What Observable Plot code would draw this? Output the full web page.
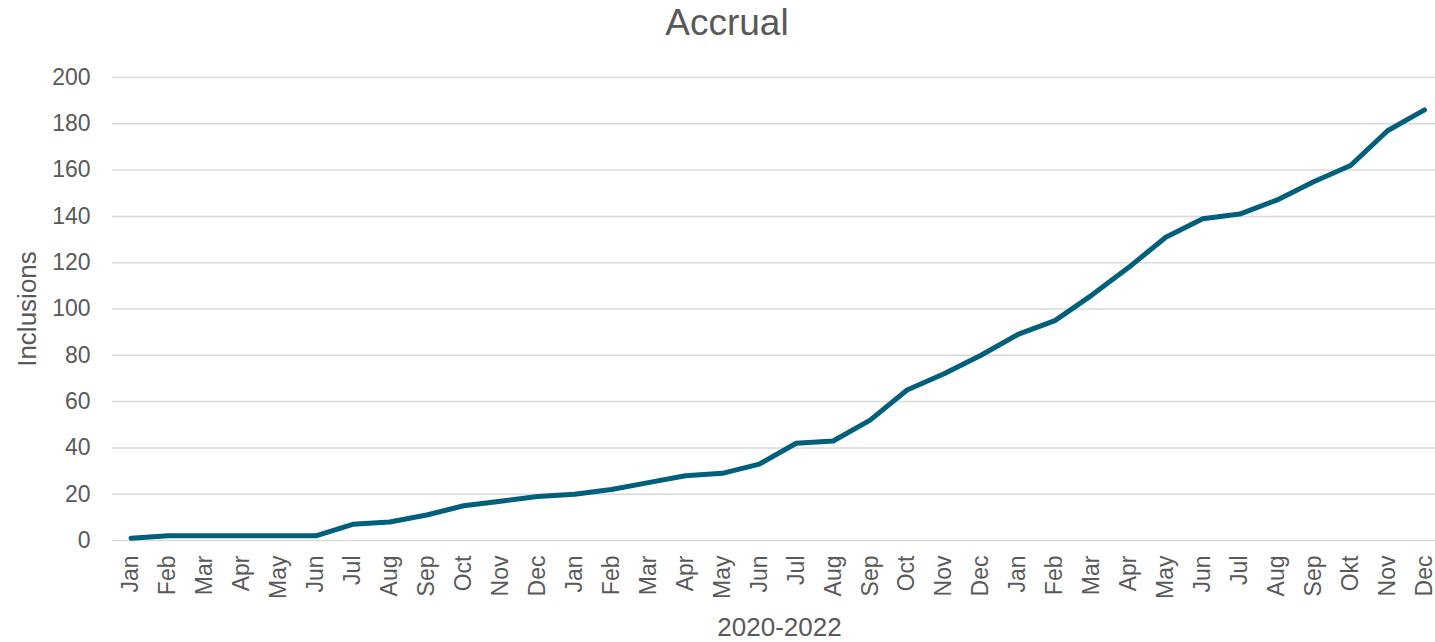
<!DOCTYPE html>
<html>
<head>
<meta charset="utf-8">
<script src="https://cdn.jsdelivr.net/npm/d3@7"></script>
<script src="https://cdn.jsdelivr.net/npm/@observablehq/plot@0.6"></script>
<style>
  html, body { margin: 0; padding: 0; background: #fff; overflow: hidden; }
  #chart { width: 1435px; }
  .title {
    height: 50px;
    line-height: 46px;
    font-family: "Liberation Sans", Arial, sans-serif;
    font-size: 37px;
    color: #595959;
    text-align: center;
    padding-left: 19px;
    width: 1416px;
  }
  svg { display: block; }
</style>
</head>
<body>
<div id="chart">
  <div class="title">Accrual</div>
</div>
<script>
// Monthly labels, January 2020 through December 2022
const months = [
  "Jan","Feb","Mar","Apr","May","Jun","Jul","Aug","Sep","Oct","Nov","Dec",
  "Jan","Feb","Mar","Apr","May","Jun","Jul","Aug","Sep","Oct","Nov","Dec",
  "Jan","Feb","Mar","Apr","May","Jun","Jul","Aug","Sep","Okt","Nov","Dec"
];

// Cumulative number of inclusions at each month
const inclusions = [
  1, 2, 2, 2, 2, 2, 7, 8, 11, 15, 17, 19,
  20, 22, 25, 28, 29, 33, 42, 43, 52, 65, 72, 80,
  89, 95, 106, 118, 131, 139, 141, 147, 155, 162, 177, 186
];

const yTicks = [0, 20, 40, 60, 80, 100, 120, 140, 160, 180, 200];

const yLabel = "Inclusions";
const xLabel = "2020-2022";

const data = months.map((m, i) => ({i, month: m, value: inclusions[i]}));

const font = "'Liberation Sans', Arial, sans-serif";
const textColor = "#595959";

const plot = Plot.plot({
  width: 1435,
  height: 592,
  marginTop: 27,
  marginBottom: 102,
  marginLeft: 112,
  marginRight: 0,
  style: {fontFamily: font, background: "#fff", overflow: "hidden"},
  x: {type: "point", domain: d3.range(months.length), range: [130.5, 1424], padding: 0},
  y: {domain: [0, 200]},
  marks: [
    Plot.gridY(yTicks, {stroke: "#d9d9d9", strokeOpacity: 1, strokeWidth: 1.5}),
    Plot.axisY(yTicks, {
      tickSize: 0, tickPadding: 22, fontSize: 23, fill: textColor, label: null
    }),
    Plot.axisX({
      tickSize: 0, tickPadding: 15, tickRotate: -90, fontSize: 23, fill: textColor,
      textAnchor: "end", lineAnchor: "middle",
      tickFormat: i => months[i], label: null
    }),
    Plot.text([yLabel], {
      frameAnchor: "left", text: d => d, rotate: -90, dx: -85,
      textAnchor: "middle", lineAnchor: "middle", fontSize: 26, fill: textColor
    }),
    Plot.text([xLabel], {
      frameAnchor: "bottom", text: d => d, dx: 5.5, dy: 87,
      textAnchor: "middle", lineAnchor: "middle", fontSize: 26, fill: textColor
    }),
    Plot.line(data, {
      x: "i", y: "value", stroke: "#005f7a", strokeWidth: 5,
      strokeLinecap: "round", strokeLinejoin: "round"
    })
  ]
});

document.getElementById("chart").appendChild(plot);
</script>
</body>
</html>
